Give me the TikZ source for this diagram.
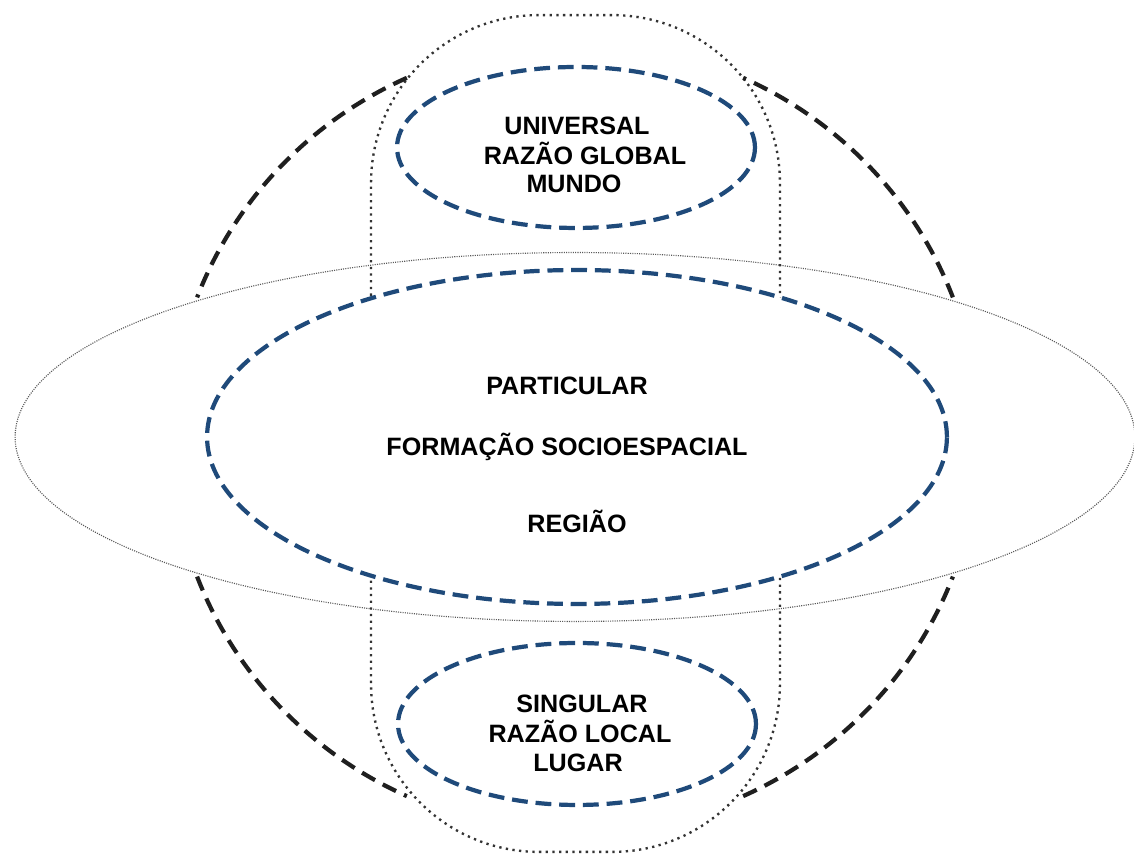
\documentclass[tikz,border=0pt]{standalone}
\usepackage{fontspec}
\setmainfont{Liberation Sans}
\usepackage{xcolor}
\usetikzlibrary{shapes.geometric}
\definecolor{ringblue}{HTML}{1F4A7A}

\tikzset{
  blueellipse/.style={ellipse, draw=ringblue, line width=2.4pt, dash pattern=on 9pt off 4.5pt, inner sep=0pt},
  ringarc/.style={draw=black!88, line width=2.4pt, dash pattern=on 8.5pt off 5pt},
  txt/.style={anchor=base, inner sep=0pt, font=\bfseries\fontsize{14.3pt}{17pt}\selectfont}
}

\begin{document}
\begin{tikzpicture}[x=0.02cm, y=0.02cm]
        \useasboundingbox (0,0) rectangle (1134,854);

        \node[ellipse, draw=black!65, line width=0.65pt, dash pattern=on 0.6pt off 0.7pt,
              minimum width=22.4cm, minimum height=7.38cm, inner sep=0pt] (plano) at (575,417) {};
        \node[rectangle, draw=black!80, line width=1.35pt, dash pattern=on 1.3pt off 2.5pt,
              rounded corners=3.36cm, minimum width=8.18cm, minimum height=16.74cm, inner sep=0pt] (eixo) at (575.5,420.5) {};

        \foreach \a/\b in {114.6/159.3, 20.7/65.4, 200.7/245.4, 294.6/339.3}
          \draw[ringarc] (575,417) ++(\a:404 and 395) arc[start angle=\a, end angle=\b, x radius=404, y radius=395];

        \node[blueellipse, fill=white, minimum width=14.8cm, minimum height=6.68cm] (regiao) at (577,417) {};
        \node[blueellipse, minimum width=7.16cm, minimum height=3.22cm] (mundo) at (576,706.5) {};
        \node[blueellipse, minimum width=7.16cm, minimum height=3.24cm] (lugar) at (577,130) {};

        \node[txt] (universal) at (577,719) {UNIVERSAL};
        \node[txt] (razaoglobal) at (585,689) {RAZÃO\ GLOBAL};
        \node[txt] (mundotxt) at (574,661) {MUNDO};

        \node[txt] (particular) at (567,459) {PARTICULAR};
        \node[txt] (formacao) at (567,398) {FORMAÇÃO\ SOCIOESPACIAL};
        \node[txt] (regiaotxt) at (577,321) {REGIÃO};

        \node[txt] (singular) at (582,141) {SINGULAR};
        \node[txt] (razaolocal) at (580,111) {RAZÃO\ LOCAL};
        \node[txt] (lugartxt) at (578,82) {LUGAR};

      \end{tikzpicture}
\end{document}
